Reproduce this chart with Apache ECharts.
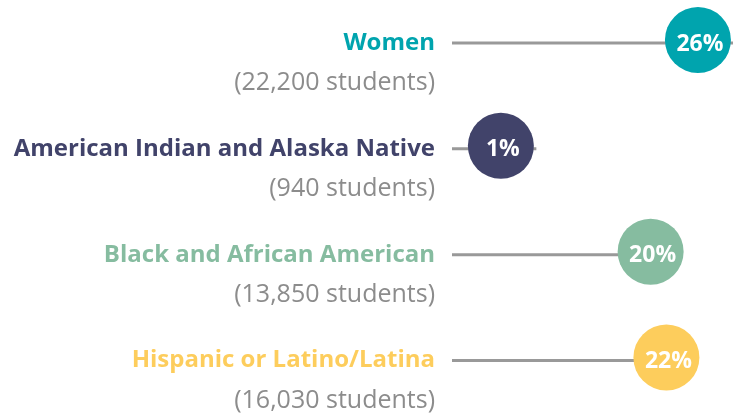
<!DOCTYPE html>
<html lang="en">
<head>
    <meta charset="UTF-8">
    <title>Share of students</title>
    <style type="text/css">
        body {
            margin: 0;
            background: #fff;
        }

        #chart {
            width: 733px;
            height: 413px;
        }
    </style>
    <script type="text/javascript" src="https://cdn.jsdelivr.net/npm/echarts@6/dist/echarts.min.js"></script>
</head>
<body>
    <div id="chart"></div>
</body>
</html>
<script type="text/javascript">
    var groups = ['Women', 'American Indian and Alaska Native', 'Black and African American', 'Hispanic or Latino/Latina'];
    var students = ['22,200', '940', '13,850', '16,030'];
    var shares = [26, 1, 20, 22];
    var lineStart = [-5.2, -5.2, -5.2, -5.2];
    var lineEnd = [31, 5.5, 20, 22];
    var colors = ['#00a4ae', '#41436a', '#86bca0', '#fdcd5c'];

    var richStyles = {
        sub: {
            color: '#8c8c8c',
            fontSize: 25,
            fontFamily: 'Open Sans',
            lineHeight: 40,
            align: 'right'
        }
    };
    for (var k = 0; k < groups.length; k++) {
        richStyles['n' + k] = {
            color: colors[k],
            fontSize: 24,
            fontWeight: 'bold',
            fontFamily: 'Open Sans',
            lineHeight: 40,
            align: 'right'
        };
    }

    var chart = echarts.init(document.getElementById('chart'));
    var option = {
        animation: false,
        grid: {
            left: 452,
            right: 0,
            top: 43,
            bottom: 49
        },
        xAxis: {
            type: 'value',
            min: -5.2,
            max: 30.45,
            show: false
        },
        yAxis: {
            type: 'category',
            data: groups,
            inverse: true,
            boundaryGap: false,
            axisLine: { show: false },
            axisTick: { show: false },
            splitLine: { show: false },
            axisLabel: {
                margin: 17,
                padding: [40, 0, 0, 0],
                formatter: function (value, idx) {
                    return '{n' + idx + '|' + value + '}\n{sub|(' + students[idx] + ' students)}';
                },
                rich: richStyles
            }
        },
        series: [{
            type: 'custom',
            renderItem: function (params, api) {
                var p0 = api.coord([api.value(0), api.value(2)]);
                var p1 = api.coord([api.value(1), api.value(2)]);
                return {
                    type: 'line',
                    shape: { x1: p0[0], y1: p0[1], x2: p1[0], y2: p1[1] },
                    style: { stroke: '#999999', lineWidth: 3 }
                };
            },
            data: groups.map(function (g, i) {
                return [lineStart[i], lineEnd[i], i];
            }),
            z: 1
        }, {
            type: 'scatter',
            symbolSize: 66,
            symbolOffset: [0, -3],
            data: shares.map(function (v, i) {
                return {
                    value: [v, i],
                    itemStyle: { color: colors[i], opacity: 1 }
                };
            }),
            label: {
                show: true,
                position: 'inside',
                offset: [2, 4],
                color: '#ffffff',
                fontSize: 23,
                fontWeight: 'bold',
                fontFamily: 'Open Sans',
                formatter: function (p) {
                    return p.value[0] + '%';
                }
            },
            z: 2
        }]
    };
    chart.setOption(option);
</script>
